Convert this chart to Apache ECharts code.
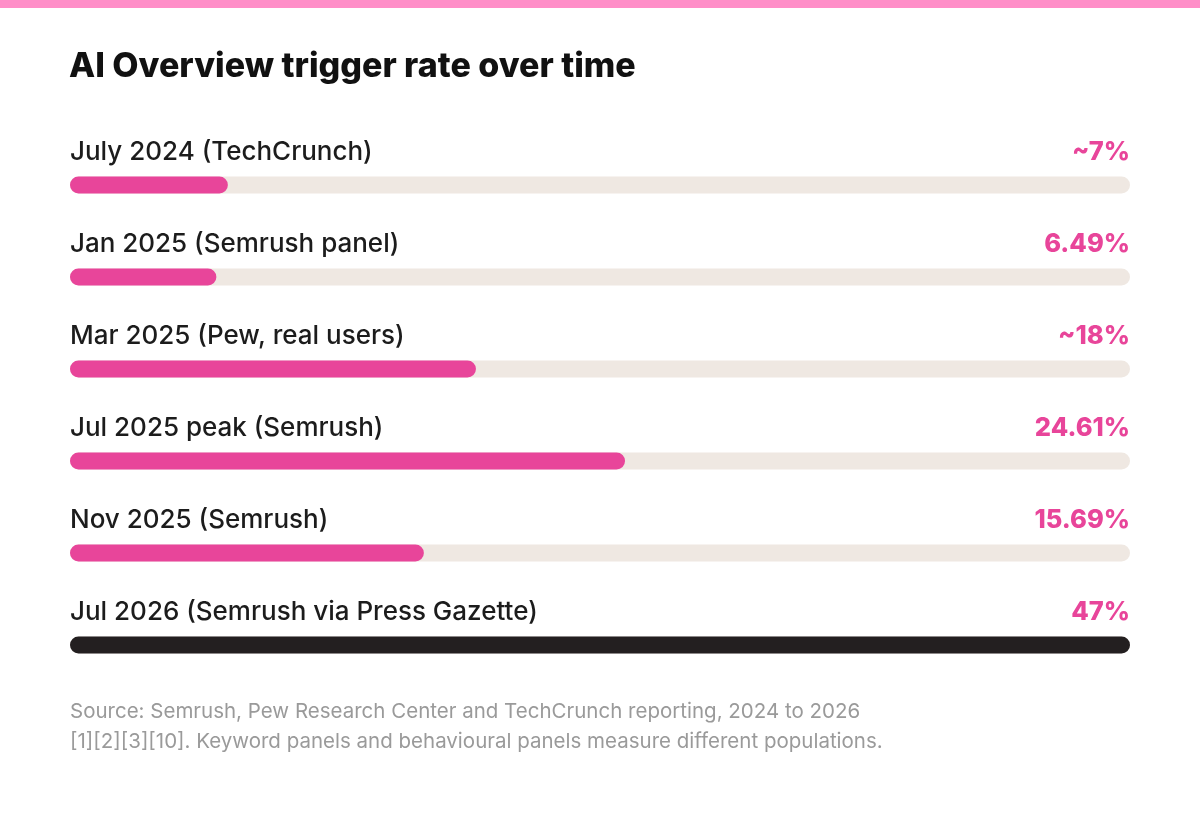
<!DOCTYPE html>
<html>
<head>
<meta charset="utf-8">
<title>AI Overview trigger rate over time</title>
<script src="https://cdn.jsdelivr.net/npm/echarts@6/dist/echarts.min.js"></script>
<style>
  html, body { margin: 0; padding: 0; background: #fff; }
  #chart { width: 1200px; height: 823px; }
</style>
</head>
<body>
<div id="chart"></div>
<script>
// data
const categories = [
  "July 2024 (TechCrunch)",
  "Jan 2025 (Semrush panel)",
  "Mar 2025 (Pew, real users)",
  "Jul 2025 peak (Semrush)",
  "Nov 2025 (Semrush)",
  "Jul 2026 (Semrush via Press Gazette)"
];
const values = [7, 6.49, 18, 24.61, 15.69, 47];
const valueLabels = ["~7%", "6.49%", "~18%", "24.61%", "15.69%", "47%"];
const highlight = [false, false, false, false, false, true];

const FONT = "Inter, 'Noto Sans', sans-serif";
const PINK = "#e8459a";
const DARK = "#231f20";

const chart = echarts.init(document.getElementById("chart"));

const option = {
  backgroundColor: "#fff",
  title: {
    text: "AI Overview trigger rate over time",
    left: 69,
    top: 50,
    padding: 0,
    textStyle: { fontFamily: FONT, fontSize: 34, fontWeight: 800, color: "#111" }
  },
  graphic: [
    { type: "rect", left: 0, top: 0, shape: { width: 1200, height: 8 }, style: { fill: "#ff8ec8" } },
    {
      type: "text",
      left: 70,
      top: 697,
      style: {
        text: "Source: Semrush, Pew Research Center and TechCrunch reporting, 2024 to 2026\n[1][2][3][10]. Keyword panels and behavioural panels measure different populations.",
        fontFamily: FONT,
        fontSize: 20.5,
        lineHeight: 30,
        fill: "#9a9a9a"
      }
    }
  ],
  grid: { left: 70, right: 70, top: 139, bottom: 132 },
  xAxis: { type: "value", min: 0, max: 47, show: false },
  yAxis: [
    {
      type: "category",
      inverse: true,
      data: categories,
      axisLine: { show: false },
      axisTick: { show: false },
      axisLabel: {
        inside: true,
        margin: 0,
        align: "left",
        verticalAlign: "bottom",
        padding: [0, 0, 20, 0],
        fontFamily: FONT,
        fontSize: 26,
        fontWeight: 500,
        color: "#1c1c1c"
      }
    },
    {
      type: "category",
      inverse: true,
      position: "right",
      data: valueLabels,
      axisLine: { show: false },
      axisTick: { show: false },
      axisLabel: {
        inside: true,
        margin: 0,
        align: "right",
        verticalAlign: "bottom",
        padding: [0, 0, 20, 0],
        fontFamily: FONT,
        fontSize: 25.5,
        fontWeight: 800,
        color: PINK
      }
    }
  ],
  series: [
    {
      type: "bar",
      yAxisIndex: 0,
      barWidth: 17,
      showBackground: true,
      backgroundStyle: { color: "#efe8e2", borderRadius: 9 },
      data: values.map((v, i) => ({
        value: v,
        itemStyle: { color: highlight[i] ? DARK : PINK, borderRadius: 9 }
      })),
      silent: true
    }
  ]
};

chart.setOption(option);
</script>
</body>
</html>
